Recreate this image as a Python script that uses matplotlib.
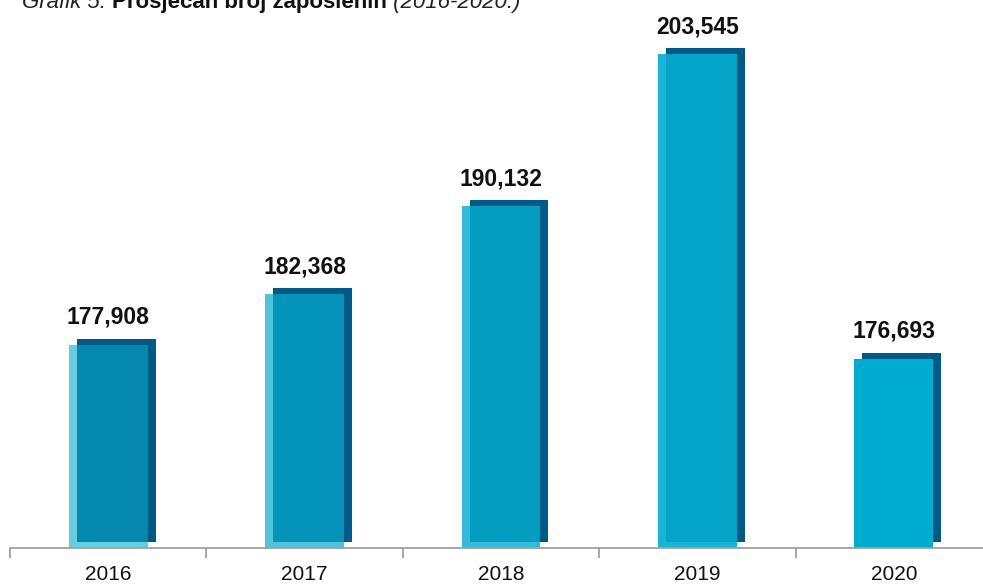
import numpy as np
import matplotlib
matplotlib.use("Agg")
import matplotlib.pyplot as plt

years = ["2016", "2017", "2018", "2019", "2020"]
employees = [177908, 182368, 190132, 203545, 176693]
value_labels = ["177,908", "182,368", "190,132", "203,545", "176,693"]

main_colors = ["#0488ad", "#0494b9", "#049dc2", "#05a5ca", "#00add0"]
light_colors = ["#66cce0", "#4ec3db", "#33bcd8", "#1ab5d5", "#00add0"]
dark_color = "#005a87"

plt.rcParams["font.family"] = ["Liberation Sans", "DejaVu Sans"]

W, H = 983, 585
fig = plt.figure(figsize=(W / 100, H / 100), dpi=100)
ax = fig.add_axes([10 / W, 37 / H, 982 / W, 548 / H])

ymin, ymax = 160000, 208300
ax.set_xlim(-0.5, 4.5)
ax.set_ylim(ymin, ymax)

x = np.arange(len(years))
vals = np.array(employees)
bw = 79 / 196.5          # bar width in data units
dx = 8 / 196.5           # shadow offset, x
dy = 6 * (ymax - ymin) / 548  # shadow offset, y

# dark shadow (shifted right/up), light back face, then main face
ax.bar(x + dx, vals - ymin, width=bw, bottom=ymin + dy, color=dark_color, zorder=1)
ax.bar(x, vals - ymin, width=bw, bottom=ymin, color=light_colors, zorder=2)
ax.bar(x + dx / 2, vals - ymin - dy, width=bw - dx, bottom=ymin + dy,
       color=main_colors, zorder=3)

for xi, v, lab in zip(x, vals, value_labels):
    ax.annotate(lab, (xi, v), xytext=(0, 15), textcoords="offset points",
                ha="center", va="baseline", fontsize=16.5, fontweight="bold",
                color="#111111")

for s in ["top", "right", "left"]:
    ax.spines[s].set_visible(False)
ax.spines["bottom"].set_color("#a0a0a0")
ax.spines["bottom"].set_linewidth(1.3)
ax.set_yticks([])
ax.set_xticks(np.arange(-0.5, 5, 1.0))
ax.set_xticklabels([])
ax.set_xticks(x, minor=True)
ax.set_xticklabels(years, minor=True, fontsize=15, color="#111111")
ax.tick_params(axis="x", which="major", length=7, width=1.3, color="#a0a0a0")
ax.tick_params(axis="x", which="minor", length=0, pad=12)

# title, cut at the top edge like the source
t1 = fig.text(22 / W, 1 - 8 / H, "Grafik 5. ", fontsize=16, style="italic",
              color="#222222", va="baseline")
a2 = ax.annotate("Prosječan broj zaposlenih", xy=(1, 0), xycoords=t1,
                 va="bottom", ha="left", fontsize=16, fontweight="bold",
                 color="#111111", annotation_clip=False)
ax.annotate(" (2016-2020.)", xy=(1, 0), xycoords=a2, va="bottom", ha="left",
            fontsize=16, style="italic", color="#222222", annotation_clip=False)

fig.savefig("out.png", dpi=100)
